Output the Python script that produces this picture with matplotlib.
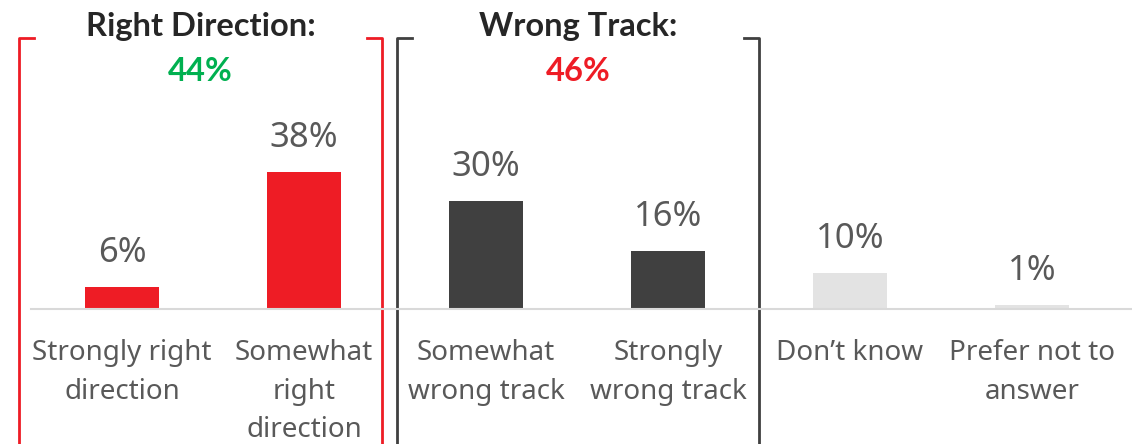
import numpy as np
import matplotlib.pyplot as plt
from matplotlib.lines import Line2D

plt.rcParams['font.family'] = ['Noto Sans', 'DejaVu Sans']

categories = ['Strongly right\ndirection', 'Somewhat\nright\ndirection',
              'Somewhat\nwrong track', 'Strongly\nwrong track',
              'Don\u2019t know', 'Prefer not to\nanswer']
values = [6, 38, 30, 16, 10, 1]
bar_colors = ['#EE1C25', '#EE1C25', '#404040', '#404040', '#E3E3E3', '#E3E3E3']
group_titles = ['Right Direction:', 'Wrong Track:']
group_totals = ['44%', '46%']
group_colors = ['#00B050', '#EE1C25']
bracket_colors = ['#EE1C25', '#404040']

fig = plt.figure(figsize=(11.32, 4.44), dpi=100)
ax = fig.add_axes([31/1132, 135/444, 1 - 31/1132, 309/444])

x = np.arange(len(values))
bars = ax.bar(x, values, width=0.405, color=bar_colors, zorder=2)
ax.set_xlim(-0.5, 5.55)
ax.set_ylim(0, 309/3.6)

for b, v in zip(bars, values):
    ax.annotate(f'{v}%', (b.get_x() + b.get_width()/2, v), xytext=(0, 18),
                textcoords='offset points', ha='center', va='baseline',
                fontsize=25, color='#595959')

for xi, lab in zip(x, categories):
    ax.text(xi, -8.4, lab, ha='center', va='top', fontsize=20,
            color='#595959', linespacing=1.5)

for s in ['top', 'right', 'left']:
    ax.spines[s].set_visible(False)
ax.spines['bottom'].set_color('#D9D9D9')
ax.spines['bottom'].set_linewidth(1.5)
ax.set_xticks([])
ax.set_yticks([])

# brackets around the two groups
brackets = [(-0.566, 1.429), (1.511, 3.5)]
top = 75.3
bottom = -40
tick = 0.08
for (l, r), c, t, tot, tc in zip(brackets, bracket_colors, group_titles,
                                  group_totals, group_colors):
    ax.add_line(Line2D([l + tick, l, l], [top, top, bottom], color=c,
                       lw=2, clip_on=False))
    ax.add_line(Line2D([r - tick, r, r], [top, top, bottom], color=c,
                       lw=2, clip_on=False))
    mid = (l + r) / 2
    ax.text(mid, 78.4, t, ha='center', va='center', fontsize=23.5,
            fontweight='bold', color='#262626', family=['Lato', 'DejaVu Sans'])
    ax.text(mid, 66.0, tot, ha='center', va='center', fontsize=23.5,
            fontweight='bold', color=tc, family=['Lato', 'DejaVu Sans'])

fig.savefig('out.png', dpi=100)
